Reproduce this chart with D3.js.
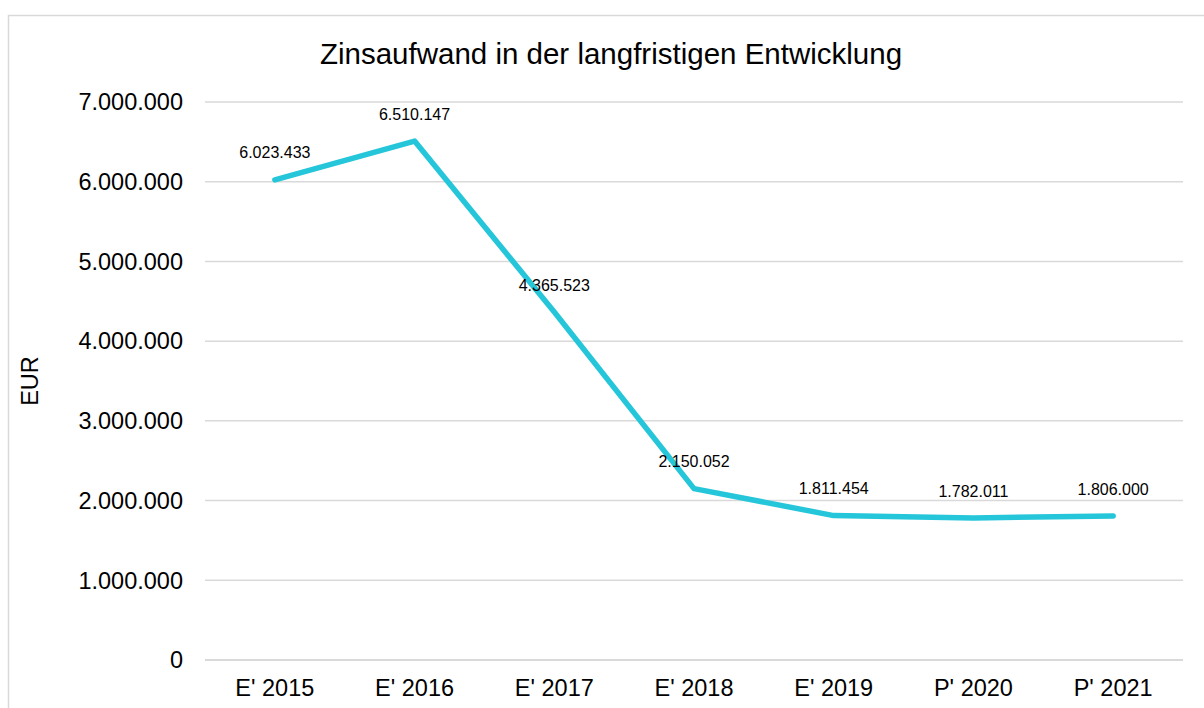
<!DOCTYPE html>
<html>
<head>
<meta charset="utf-8">
<script src="https://cdn.jsdelivr.net/npm/d3@7"></script>
<style>
  body { margin: 0; background: #fff; }
  svg { font-family: "Liberation Sans", Arial, sans-serif; }
</style>
</head>
<body>
<svg id="chart"></svg>
<script>
const categories = ["E' 2015", "E' 2016", "E' 2017", "E' 2018", "E' 2019", "P' 2020", "P' 2021"];
const values = [6023433, 6510147, 4365523, 2150052, 1811454, 1782011, 1806000];
const yTicks = [0, 1000000, 2000000, 3000000, 4000000, 5000000, 6000000, 7000000];

const width = 1204, height = 708;
const margins = { top: 102, right: 21, bottom: 48, left: 205 };

const svg = d3.select("svg#chart").attr("width", width).attr("height", height);

// outer chart border (bottom/right cut off)
svg.append("path")
  .attr("d", `M8.5,${height} V15.5 H${width}`)
  .attr("fill", "none")
  .attr("stroke", "#d9d9d9")
  .attr("stroke-width", 1.5);

const xScale = d3.scaleBand()
  .domain(categories)
  .range([margins.left, width - margins.right]);

const yScale = d3.scaleLinear()
  .domain([0, 7000000])
  .range([height - margins.bottom, margins.top]);

const fmt = (v) => d3.format(",")(v).replace(/,/g, ".");

// gridlines
svg.append("g")
  .selectAll("line")
  .data(yTicks)
  .join("line")
  .attr("x1", margins.left)
  .attr("x2", width - margins.right)
  .attr("y1", (d) => yScale(d))
  .attr("y2", (d) => yScale(d))
  .attr("stroke", "#d9d9d9")
  .attr("stroke-width", (d) => (d === 0 ? 2 : 1.5));

// y axis labels
svg.append("g")
  .selectAll("text")
  .data(yTicks)
  .join("text")
  .attr("x", 183)
  .attr("y", (d) => yScale(d))
  .attr("dy", "0.35em")
  .attr("text-anchor", "end")
  .attr("font-size", 23.5)
  .attr("fill", "#000")
  .text((d) => fmt(d));

// x axis labels
svg.append("g")
  .selectAll("text")
  .data(categories)
  .join("text")
  .attr("x", (d) => xScale(d) + xScale.bandwidth() / 2)
  .attr("y", 696)
  .attr("text-anchor", "middle")
  .attr("font-size", 23.5)
  .attr("fill", "#000")
  .text((d) => d);

// line
const line = d3.line()
  .x((d, i) => xScale(categories[i]) + xScale.bandwidth() / 2)
  .y((d) => yScale(d));

svg.append("path")
  .datum(values)
  .attr("d", line)
  .attr("fill", "none")
  .attr("stroke", "#26c6da")
  .attr("stroke-width", 5.5)
  .attr("stroke-linejoin", "round")
  .attr("stroke-linecap", "round");

// data labels
svg.append("g")
  .selectAll("text")
  .data(values)
  .join("text")
  .attr("x", (d, i) => xScale(categories[i]) + xScale.bandwidth() / 2)
  .attr("y", (d) => yScale(d) - 27)
  .attr("dy", "0.35em")
  .attr("text-anchor", "middle")
  .attr("font-size", 16)
  .attr("fill", "#000")
  .text((d) => fmt(d));

// title
svg.append("text")
  .attr("x", 611)
  .attr("y", 64)
  .attr("text-anchor", "middle")
  .attr("font-size", 29.5)
  .attr("fill", "#000")
  .text("Zinsaufwand in der langfristigen Entwicklung");

// y axis title
svg.append("text")
  .attr("transform", "translate(38,381) rotate(-90)")
  .attr("text-anchor", "middle")
  .attr("font-size", 23.5)
  .attr("fill", "#000")
  .text("EUR");
</script>
</body>
</html>
